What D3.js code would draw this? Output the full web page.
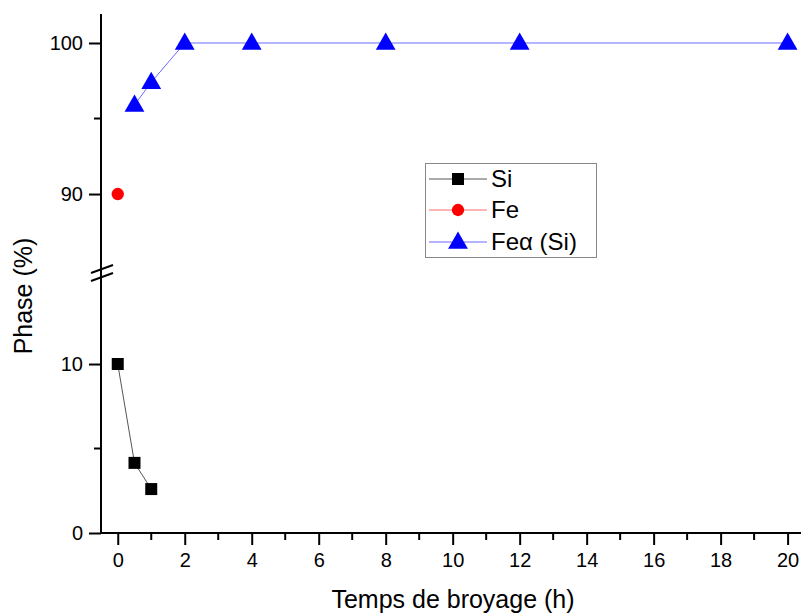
<!DOCTYPE html>
<html><head><meta charset="utf-8">
<script src="https://cdn.jsdelivr.net/npm/d3@7"></script>
<style>body{margin:0;background:#fff}svg{display:block}text{font-family:Arial,"Liberation Sans",sans-serif}</style>
</head><body>
<svg id="c" width="801" height="614"></svg>
<script>
const siX = [0, 0.5, 1];
const siY = [10, 4.15, 2.6];
const feX = [0];
const feY = [90];
const feaX = [0.5, 1, 2, 4, 8, 12, 20];
const feaY = [95.9, 97.4, 100, 100, 100, 100, 100];
const xTicks = [0,2,4,6,8,10,12,14,16,18,20];
const yLowTicks = [0, 10];
const yHighTicks = [90, 100];
const legendLabels = ["Si", "Fe", "Feα (Si)"];

const svg = d3.select("#c");
const x = d3.scaleLinear().domain([-0.5, 20.4]).range([101, 801]);
const yLow = d3.scaleLinear().domain([0, 15.15]).range([533, 277]);
const yHigh = d3.scaleLinear().domain([85.5, 101.9]).range([262, 14.3]);
const yOf = v => v >= 50 ? yHigh(v) : yLow(v);

// X axis
const xAxis = d3.axisBottom(x).tickValues(xTicks).tickSize(12).tickSizeOuter(0).tickPadding(8);
const gx = svg.append("g").attr("transform","translate(0,533)").call(xAxis);
gx.select(".domain").attr("stroke","#000").attr("stroke-width",2).attr("d","M101,0H801");
gx.selectAll(".tick line").attr("stroke-width",2);
gx.selectAll(".tick text").attr("font-size",20).attr("fill","#000");
const minorX = d3.range(1, 20, 2);
gx.selectAll(".minor").data(minorX).enter().append("line")
  .attr("x1",d=>x(d)).attr("x2",d=>x(d)).attr("y1",0).attr("y2",7).attr("stroke","#000").attr("stroke-width",2);

// Y axis lines
svg.append("line").attr("x1",101).attr("x2",101).attr("y1",14).attr("y2",534).attr("stroke","#000").attr("stroke-width",2);
const gyl = svg.append("g").attr("transform","translate(101,0)")
  .call(d3.axisLeft(yLow).tickValues(yLowTicks).tickSize(12).tickSizeOuter(0).tickPadding(6));
const gyh = svg.append("g").attr("transform","translate(101,0)")
  .call(d3.axisLeft(yHigh).tickValues(yHighTicks).tickSize(12).tickSizeOuter(0).tickPadding(6));
[gyl, gyh].forEach(g => {
  g.select(".domain").remove();
  g.selectAll(".tick line").attr("stroke-width",2);
  g.selectAll(".tick text").attr("font-size",20).attr("fill","#000");
});
gyl.selectAll(".minor").data([5]).enter().append("line")
  .attr("x1",-7).attr("x2",0).attr("y1",d=>yLow(d)).attr("y2",d=>yLow(d)).attr("stroke","#000").attr("stroke-width",2);
gyh.selectAll(".minor").data([95]).enter().append("line")
  .attr("x1",-7).attr("x2",0).attr("y1",d=>yHigh(d)).attr("y2",d=>yHigh(d)).attr("stroke","#000").attr("stroke-width",2);

// break marks
[269, 277].forEach(yy => {
  svg.append("line").attr("x1",91).attr("x2",113).attr("y1",yy+4).attr("y2",yy-4)
    .attr("stroke","#000").attr("stroke-width",2);
});

// Titles
svg.append("text").attr("x",453).attr("y",608).attr("text-anchor","middle").attr("font-size",25).text("Temps de broyage (h)");
svg.append("text").attr("transform","translate(32,296) rotate(-90)").attr("text-anchor","middle").attr("font-size",25).text("Phase (%)");

// Series
const line = d3.line().x(d=>x(d[0])).y(d=>yOf(d[1]));
const si = siX.map((v,i)=>[v, siY[i]]);
const fe = feX.map((v,i)=>[v, feY[i]]);
const fea = feaX.map((v,i)=>[v, feaY[i]]);

svg.append("path").attr("d", line(si)).attr("fill","none").attr("stroke","#555").attr("stroke-width",1);
svg.append("path").attr("d", line(fea)).attr("fill","none").attr("stroke","#6b6bff").attr("stroke-width",1);

const sq = d3.symbol().type(d3.symbolSquare).size(144);
const ci = d3.symbol().type(d3.symbolCircle).size(120);
const tr = d3.symbol().type(d3.symbolTriangle).size(170);

svg.selectAll(".si").data(si).enter().append("path").attr("d",sq)
  .attr("transform",d=>`translate(${x(d[0])},${yOf(d[1])})`).attr("fill","#000");
svg.selectAll(".fe").data(fe).enter().append("path").attr("d",ci)
  .attr("transform",d=>`translate(${x(d[0])},${yOf(d[1])})`).attr("fill","#ff0000");
svg.selectAll(".fea").data(fea).enter().append("path").attr("d",tr)
  .attr("transform",d=>`translate(${x(d[0])},${yOf(d[1])+1})`).attr("fill","#0000ff");

// Legend
const lg = svg.append("g");
lg.append("rect").attr("x",425.5).attr("y",163.5).attr("width",171).attr("height",94)
  .attr("fill","#fff").attr("stroke","#888").attr("stroke-width",1);
const lcol = ["#555","#ff6b6b","#6b6bff"];
const mcol = ["#000","#ff0000","#0000ff"];
const syms = [sq, ci, tr];
const rowY = [179, 210, 242];
legendLabels.forEach((t,i) => {
  const yy = rowY[i];
  lg.append("line").attr("x1",429).attr("x2",487).attr("y1",yy).attr("y2",yy).attr("stroke",lcol[i]).attr("stroke-width",1);
  lg.append("path").attr("d",syms[i]).attr("transform",`translate(458,${yy + (i===2?1:0)})`).attr("fill",mcol[i]);
  lg.append("text").attr("x",491).attr("y",yy+8).attr("font-size",24).text(t);
});
</script>
</body></html>
